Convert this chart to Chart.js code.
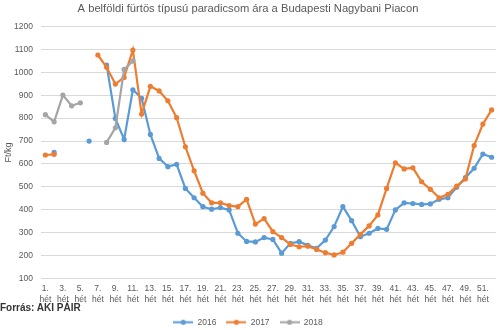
<!DOCTYPE html>
<html>
<head>
<meta charset="utf-8">
<script src="https://cdn.jsdelivr.net/npm/chart.js@4.4.0/dist/chart.umd.min.js"></script>
<style>
  body { margin: 0; background: #fff; }
  #wrap { position: relative; width: 500px; height: 330px; }
  #source {
    position: absolute; left: 0; top: 302px;
    font: bold 10px "Liberation Sans", Arial, sans-serif;
    line-height: 12px; color: #333;
  }
</style>
</head>
<body>
<div id="wrap">
  <canvas id="chart"></canvas>
  <div id="source">Forrás: AKI PÁIR</div>
</div>
<script>
// weeks of the year
const weeks = [1, 2, 3, 4, 5, 6, 7, 8, 9, 10, 11, 12, 13, 14, 15, 16, 17, 18, 19, 20,
  21, 22, 23, 24, 25, 26, 27, 28, 29, 30, 31, 32, 33, 34, 35, 36, 37, 38, 39, 40,
  41, 42, 43, 44, 45, 46, 47, 48, 49, 50, 51, 52];

// weekly prices, Ft/kg (null = no quote that week)
const price2016 = [null, 650, null, null, null, 700, null, 1032, 799, 707,
  924, 887, 729, 624, 588, 598, 493, 452, 413, 402,
  409, 399, 297, 261, 259, 278, 270, 210, 253, 260,
  244, 231, 267, 326, 413, 352, 282, 297, 318, 314,
  399, 430, 427, 423, 425, 445, 452, 498, 540, 581,
  643, 629];
const price2017 = [639, 642, null, null, null, null, 1076, 1022, 949, 978,
  1098, 818, 939, 919, 876, 802, 675, 570, 472, 430,
  430, 418, 413, 445, 337, 361, 304, 278, 248, 238,
  240, 226, 212, 202, 214, 253, 292, 329, 377, 493,
  605, 578, 583, 522, 489, 452, 467, 503, 534, 680,
  774, 836];
const price2018 = [815, 784, 901, 854, 867, null, null, 694, 758, 1013,
  1050, null, null, null, null, null, null, null, null, null,
  null, null, null, null, null, null, null, null, null, null,
  null, null, null, null, null, null, null, null, null, null,
  null, null, null, null, null, null, null, null, null, null,
  null, null];

const seriesNames = ['2016', '2017', '2018'];
const seriesColors = ['#5b9bd5', '#ed7d31', '#a5a5a5'];

const yTicks = { min: 100, max: 1200, step: 100 };

const FONT = '"Liberation Sans", Arial, sans-serif';
const GREY = '#595959';

// small line-with-dot icon for the legend
function legendIcon(color) {
  const c = document.createElement('canvas');
  c.width = 20;
  c.height = 7;
  const g = c.getContext('2d');
  g.strokeStyle = color;
  g.lineWidth = 2;
  g.beginPath();
  g.moveTo(0, 3.5);
  g.lineTo(20, 3.5);
  g.stroke();
  g.fillStyle = color;
  g.beginPath();
  g.arc(10, 3.5, 2.6, 0, Math.PI * 2);
  g.fill();
  return c;
}

const allSeries = [price2016, price2017, price2018];

const datasets = allSeries.map((values, i) => ({
  label: seriesNames[i],
  data: values,
  borderColor: seriesColors[i],
  backgroundColor: seriesColors[i],
  borderWidth: 2.2,
  pointRadius: 2.6,
  pointBorderWidth: 0,
  pointHoverRadius: 3,
  tension: 0,
  spanGaps: false,
  order: 3 - i
}));

new Chart(document.getElementById('chart'), {
  type: 'line',
  data: { labels: weeks, datasets: datasets },
  options: {
    responsive: true,
    maintainAspectRatio: false,
    animation: false,
    layout: { padding: { left: 0, right: 4, top: 0, bottom: 0 } },
    plugins: {
      title: {
        display: true,
        text: 'A belföldi fürtös típusú paradicsom ára a Budapesti Nagybani Piacon',
        color: GREY,
        font: { family: FONT, size: 11.2, weight: 'normal' },
        padding: { top: 2, bottom: 11.2 }
      },
      legend: {
        position: 'bottom',
        maxHeight: 22,
        labels: {
          color: GREY,
          font: { family: FONT, size: 8.5 },
          usePointStyle: true,
          pointStyleWidth: 20,
          padding: 10,
          generateLabels: (chart) => chart.data.datasets.map((ds, i) => ({
            text: ds.label,
            fillStyle: ds.borderColor,
            strokeStyle: ds.borderColor,
            fontColor: GREY,
            lineWidth: 0,
            pointStyle: legendIcon(ds.borderColor),
            datasetIndex: i,
            hidden: !chart.isDatasetVisible(i)
          }))
        }
      },
      tooltip: { enabled: false }
    },
    scales: {
      x: {
        offset: true,
        grid: { display: false, drawTicks: false, offset: true },
        border: { display: false },
        afterFit: (scale) => { scale.height = 29.7; },
        ticks: {
          autoSkip: false,
          maxRotation: 0,
          minRotation: 0,
          padding: 5,
          color: GREY,
          font: { family: FONT, size: 8.5, lineHeight: 1.3 },
          callback: function (value, index) {
            return index % 2 === 0 ? [weeks[index] + '.', 'hét'] : '';
          }
        }
      },
      y: {
        min: yTicks.min,
        max: yTicks.max,
        afterFit: (scale) => { scale.width = 41; },
        grid: { color: '#d9d9d9', lineWidth: 1, drawTicks: false },
        border: { display: false },
        ticks: {
          stepSize: yTicks.step,
          padding: 8,
          color: GREY,
          font: { family: FONT, size: 8.5 },
          callback: (value) => String(value)
        },
        title: {
          display: true,
          text: 'Ft/kg',
          color: GREY,
          font: { family: FONT, size: 9 },
          padding: { top: 3, bottom: 0 }
        }
      }
    }
  }
});
</script>
</body>
</html>
